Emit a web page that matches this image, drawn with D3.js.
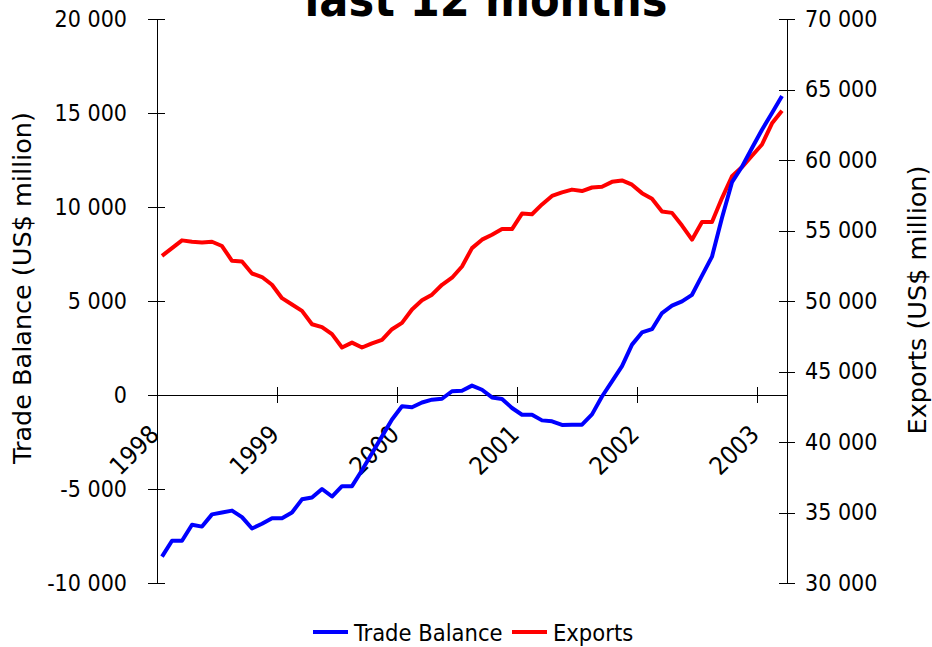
<!DOCTYPE html>
<meta charset="utf-8">
<style>
  body { margin: 0; background: #fff; }
  .chart text { font-family: "DejaVu Sans Condensed", "DejaVu Sans", sans-serif; fill: #000; }
  .chart text.title-axis { font-family: "DejaVu Sans", sans-serif; }
  .axis path, .axis line { fill: none; stroke: #000; stroke-width: 1; shape-rendering: crispEdges; }
  .series { fill: none; stroke-width: 4; stroke-linejoin: round; stroke-linecap: butt; }
</style>
<body>
<svg class="chart"></svg>
<script src="https://cdn.jsdelivr.net/npm/d3@7/dist/d3.min.js"></script>
<script>

// Monthly categories, Jan 1998 .. Mar 2003
var months = [
  "1998-01","1998-02","1998-03","1998-04","1998-05","1998-06","1998-07","1998-08","1998-09","1998-10","1998-11","1998-12",
  "1999-01","1999-02","1999-03","1999-04","1999-05","1999-06","1999-07","1999-08","1999-09","1999-10","1999-11","1999-12",
  "2000-01","2000-02","2000-03","2000-04","2000-05","2000-06","2000-07","2000-08","2000-09","2000-10","2000-11","2000-12",
  "2001-01","2001-02","2001-03","2001-04","2001-05","2001-06","2001-07","2001-08","2001-09","2001-10","2001-11","2001-12",
  "2002-01","2002-02","2002-03","2002-04","2002-05","2002-06","2002-07","2002-08","2002-09","2002-10","2002-11","2002-12",
  "2003-01","2003-02","2003-03"
];
var yearLabels = ["1998", "1999", "2000", "2001", "2002", "2003"];

// Trade balance, last 12 months (US$ million) - left axis
var tradeBalance = [
  -8600, -7750, -7750, -6900, -7000, -6350, -6250, -6150, -6500, -7100, -6850, -6550,
  -6550, -6250, -5550, -5450, -5000, -5400, -4850, -4850, -4000, -3100, -2200, -1300,
  -600, -650, -400, -250, -200, 200, 230, 500, 280, -130, -210, -690,
  -1050, -1050, -1350, -1400, -1590, -1580, -1580, -1030, -80, 720, 1540, 2680,
  3330, 3500, 4360, 4750, 4980, 5330, 6350, 7360, 9430, 11320, 12140, 13140,
  14110, 15000, 15900
];

// Exports, last 12 months (US$ million) - right axis
var exports = [
  53200, 53750, 54300, 54200, 54150, 54200, 53900, 52850, 52800, 51950, 51700, 51150,
  50200, 49750, 49300, 48350, 48150, 47650, 46700, 47050, 46700, 47000, 47250, 48000,
  48450, 49400, 50050, 50450, 51150, 51650, 52450, 53750, 54350, 54700, 55100, 55100,
  56200, 56150, 56850, 57450, 57700, 57900, 57800, 58050, 58100, 58450, 58550, 58250,
  57650, 57250, 56350, 56250, 55350, 54350, 55600, 55600, 57300, 58850, 59500, 60300,
  61100, 62600, 63500
];

var leftTicks = [-10000, -5000, 0, 5000, 10000, 15000, 20000];
var rightTicks = [30000, 35000, 40000, 45000, 50000, 55000, 60000, 65000, 70000];

var width = 932, height = 647;
var plot = { left: 157, right: 787, top: 19, bottom: 583 };

var svg = d3.select(".chart")
    .attr("width", width)
    .attr("height", height);

svg.append("rect")
    .attr("width", width)
    .attr("height", height)
    .attr("fill", "#fff");

// number format with space as thousands separator
var fmt = d3.formatLocale({ decimal: ",", thousands: " ", grouping: [3], currency: ["", ""], minus: "-" }).format(",d");

// scales
var x = d3.scaleLinear().domain([0, months.length]).range([plot.left, plot.right]);
var yL = d3.scaleLinear().domain([-10000, 20000]).range([plot.bottom, plot.top]);
var yR = d3.scaleLinear().domain([30000, 70000]).range([plot.bottom, plot.top]);

// title (its first line is cut off at the top of the picture, as in the source)
svg.append("text")
    .attr("x", 486)
    .attr("y", 16)
    .attr("text-anchor", "middle")
    .style("font-size", "48px")
    .style("font-weight", "bold")
    .text("last 12 months");

// left axis
var gL = svg.append("g")
    .attr("class", "axis")
    .attr("transform", "translate(" + plot.left + ",0)")
    .call(d3.axisLeft(yL).tickValues(leftTicks).tickFormat(fmt)
        .tickSizeInner(9).tickSizeOuter(0).tickPadding(21));
gL.selectAll(".tick line").attr("x2", 8).attr("x1", -9);
gL.selectAll(".tick text").style("font-size", "23px");

// right axis
var gR = svg.append("g")
    .attr("class", "axis")
    .attr("transform", "translate(" + plot.right + ",0)")
    .call(d3.axisRight(yR).tickValues(rightTicks).tickFormat(fmt)
        .tickSizeInner(8).tickSizeOuter(0).tickPadding(10));
gR.selectAll(".tick line").attr("x1", -8).attr("x2", 8);
gR.selectAll(".tick text").style("font-size", "23px");

// category axis, drawn on the zero line
var gX = svg.append("g")
    .attr("class", "axis")
    .attr("transform", "translate(0," + yL(0) + ")")
    .call(d3.axisBottom(x).tickValues([0, 12, 24, 36, 48, 60])
        .tickFormat(function(d, i) { return yearLabels[i]; })
        .tickSizeInner(8).tickSizeOuter(0));
gX.selectAll(".tick line").attr("y1", -8).attr("y2", 8);
gX.selectAll(".tick text")
    .attr("y", 0).attr("dy", 0)
    .attr("text-anchor", "end")
    .attr("transform", "translate(3,41) rotate(-45)")
    .style("font-size", "25px");

// axis titles
svg.append("text")
    .attr("class", "title-axis")
    .attr("transform", "translate(31,288) rotate(-90)")
    .attr("text-anchor", "middle")
    .style("font-size", "25.5px")
    .text("Trade Balance (US$ million)");

svg.append("text")
    .attr("class", "title-axis")
    .attr("transform", "translate(926,300) rotate(-90)")
    .attr("text-anchor", "middle")
    .style("font-size", "25.5px")
    .text("Exports (US$ million)");

// lines
var lineL = d3.line()
    .x(function(d, i) { return x(i + 0.5); })
    .y(function(d) { return yL(d); });
var lineR = d3.line()
    .x(function(d, i) { return x(i + 0.5); })
    .y(function(d) { return yR(d); });

svg.append("path")
    .datum(exports)
    .attr("class", "series")
    .attr("stroke", "#ff0000")
    .attr("d", lineR);

svg.append("path")
    .datum(tradeBalance)
    .attr("class", "series")
    .attr("stroke", "#0000ff")
    .attr("d", lineL);

// legend
var legend = [
  { name: "Trade Balance", color: "#0000ff", x: 313 },
  { name: "Exports", color: "#ff0000", x: 512 }
];
var lg = svg.selectAll(".legend")
    .data(legend)
  .enter().append("g")
    .attr("class", "legend")
    .attr("transform", function(d) { return "translate(" + d.x + ",632)"; });
lg.append("line")
    .attr("x1", 0).attr("x2", 35)
    .attr("stroke", function(d) { return d.color; })
    .attr("stroke-width", 4);
lg.append("text")
    .attr("x", 41)
    .attr("y", 9)
    .style("font-size", "23.5px")
    .text(function(d) { return d.name; });

</script>
</body>
